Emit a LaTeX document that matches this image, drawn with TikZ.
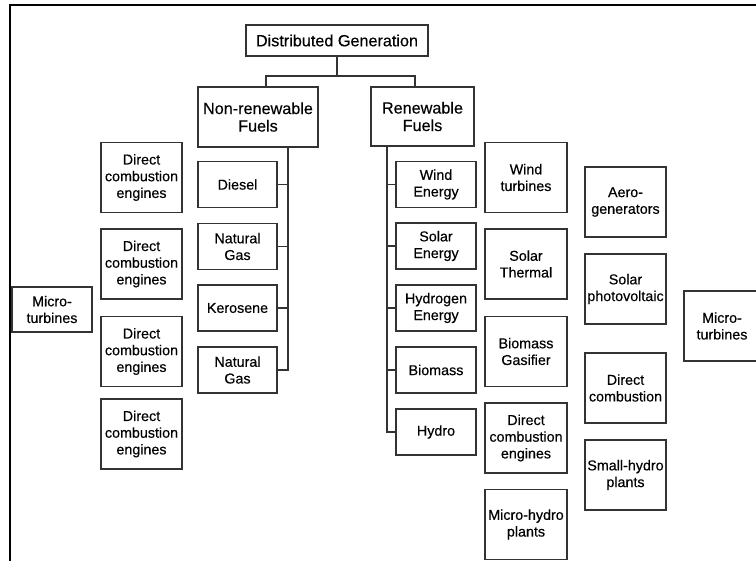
\documentclass[tikz,border=0pt]{standalone}
\usepackage{fontspec}
\setmainfont{Liberation Sans}[BoldFont={Liberation Sans}, BoldFeatures={FakeBold=0.35}]
\usepackage{tikz}
\usetikzlibrary{calc}

\begin{document}
\begin{tikzpicture}[x=1bp, y=-1bp,
	box/.style={draw=black!80, line width=1.2bp, inner sep=0pt, align=center, text=black},
	head/.style={box, font=\fontsize{16.2bp}{17.5bp}\bfseries},
	leaf/.style={box, font=\fontsize{14.3bp}{16.7bp}\bfseries, minimum width=81bp, minimum height=70bp},
	fuel/.style={leaf, minimum width=80bp, minimum height=46bp},
	link/.style={draw=black!80, line width=1.2bp}]
\useasboundingbox (0,0) rectangle (756,561);
\draw[line width=2bp] (10,565) |- (760,5);

\node[head, minimum width=182bp, minimum height=31bp] (dg) at (337,40.5) {Distributed Generation};
\node[head, minimum width=120bp, minimum height=60bp] (nonren) at (258,117) {Non-renewable\\Fuels};
\node[head, minimum width=103bp, minimum height=59bp] (ren) at (422.5,116.5) {Renewable\\Fuels};

% non-renewable side
\node[leaf, minimum width=80bp, minimum height=45bp] (mtl) at (52,309.5) {Micro-\\turbines};
\node[leaf] (dce1) at (141.5,177.5) {Direct\\combustion\\engines};
\node[leaf] (dce2) at (141.5,264) {Direct\\combustion\\engines};
\node[leaf] (dce3) at (141.5,351.5) {Direct\\combustion\\engines};
\node[leaf] (dce4) at (141.5,434) {Direct\\combustion\\engines};
\node[fuel, minimum width=79bp] (diesel) at (237.5,184.5) {Diesel};
\node[fuel, minimum width=79bp] (ng1) at (237.5,246.5) {Natural\\Gas};
\node[fuel, minimum width=79bp] (kero) at (237.5,308) {Kerosene};
\node[fuel, minimum width=79bp] (ng2) at (237.5,370) {Natural\\Gas};

% renewable side
\node[fuel] (wind) at (436,184.5) {Wind\\Energy};
\node[fuel] (solar) at (436,246) {Solar\\Energy};
\node[fuel] (hydrogen) at (436,308) {Hydrogen\\Energy};
\node[fuel] (biomass) at (436,370) {Biomass};
\node[fuel] (hydro) at (436,432) {Hydro};
\node[leaf, minimum width=82bp] (windt) at (526,177.5) {Wind\\turbines};
\node[leaf, minimum width=82bp] (solth) at (526,264) {Solar\\Thermal};
\node[leaf, minimum width=82bp] (biogas) at (526,351.5) {Biomass\\Gasifier};
\node[leaf, minimum width=82bp] (dce5) at (526,438) {Direct\\combustion\\engines};
\node[leaf, minimum width=82bp] (microhydro) at (526,524.5) {Micro-hydro\\plants};
\node[leaf] (aero) at (625.5,202) {Aero-\\generators};
\node[leaf] (pv) at (625.5,289) {Solar\\photovoltaic};
\node[leaf] (dcomb) at (625.5,388) {Direct\\combustion};
\node[leaf] (smallhydro) at (625.5,475) {Small-hydro\\plants};
\node[leaf, minimum width=76bp] (mtr) at (722,326) {Micro-\\turbines};

% tree
\coordinate (split) at (337,76);
\draw[link] (dg) -- (split);
\draw[link] ([xshift=8bp]nonren.north) |- (split) -| ([xshift=-7.5bp]ren.north);
\coordinate (nspine) at ([xshift=30bp]nonren.south);
\coordinate (rspine) at ([xshift=-35.5bp]ren.south);
\draw[link] (nspine) |- (ng2.east);
\draw[link] (rspine) |- (hydro.west);
\foreach \n in {diesel,ng1,kero}
	\draw[link] (\n.east) -- (\n.east -| nspine);
\foreach \n in {wind,solar,hydrogen,biomass}
	\draw[link] ([xshift=-1bp]\n.west -| rspine) -- (\n.west);
\end{tikzpicture}
\end{document}
